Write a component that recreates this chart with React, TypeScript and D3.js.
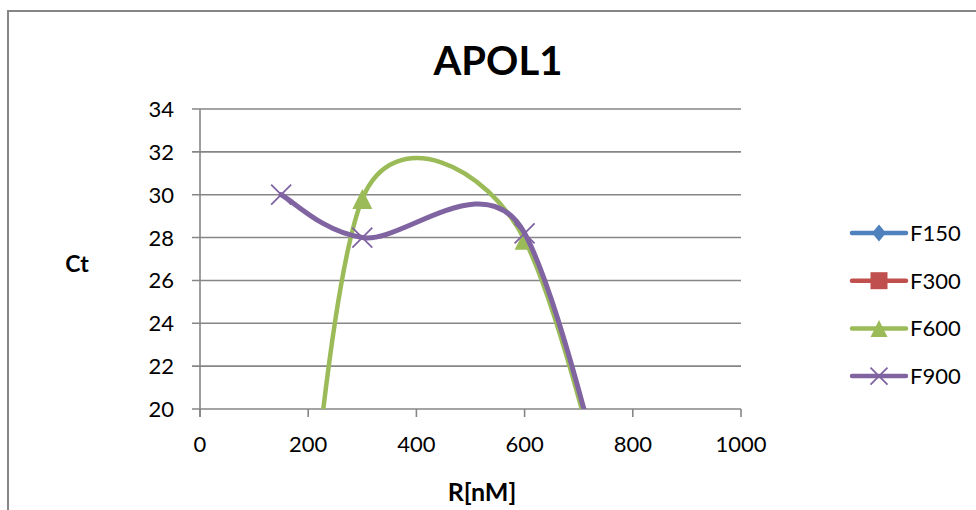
import React from "react";
import * as d3 from "d3";

const concentrations = [150, 300, 600, 900];
const seriesNames = ["F150", "F300", "F600", "F900"];
const f150 = [0, 0, 0, 0];
const f300 = [0, 0, 0, 0];
const f600 = [0, 29.8, 27.9, 0];
const f900 = [30, 28, 28.2, 0];
const seriesColors = ["#4F81BD", "#C0504D", "#9BBB59", "#8064A2"];
const seriesMarkers = ["diamond", "square", "triangle", "x"];
const xTicks = [0, 200, 400, 600, 800, 1000];
const yTicks = [20, 22, 24, 26, 28, 30, 32, 34];

const W = 976;
const H = 510;
const plot = { left: 200, right: 741, top: 109, bottom: 409 };
const FONT = "Lato, 'Open Sans', sans-serif";

type Pt = [number, number];

function excelSmooth(pts: Pt[]): string {
  const p = d3.path();
  if (!pts.length) return "";
  p.moveTo(pts[0][0], pts[0][1]);
  const dist = (a: Pt, b: Pt) => Math.hypot(a[0] - b[0], a[1] - b[1]);
  for (let i = 0; i < pts.length - 1; i++) {
    const P1 = pts[i];
    const P2 = pts[i + 1];
    const P0 = i > 0 ? pts[i - 1] : P1;
    const P3 = i + 2 < pts.length ? pts[i + 2] : P2;
    const d12 = dist(P1, P2);
    const d02 = dist(P0, P2);
    const d13 = dist(P1, P3);
    const f0 = d02 / 6 < d12 / 2 ? 1 / 6 : d12 / (2 * d02);
    const f3 = d13 / 6 < d12 / 2 ? 1 / 6 : d12 / (2 * d13);
    const c1x = P1[0] + f0 * (P2[0] - P0[0]);
    const c1y = P1[1] + f0 * (P2[1] - P0[1]);
    const c2x = P2[0] - f3 * (P3[0] - P1[0]);
    const c2y = P2[1] - f3 * (P3[1] - P1[1]);
    p.bezierCurveTo(c1x, c1y, c2x, c2y, P2[0], P2[1]);
  }
  return p.toString();
}

function Marker({ kind, x, y, color, s }: { kind: string; x: number; y: number; color: string; s: number }) {
  const h = s / 2;
  if (kind === "diamond") {
    return <path d={`M${x},${y - h}L${x + h * 0.82},${y}L${x},${y + h}L${x - h * 0.82},${y}Z`} fill={color} />;
  }
  if (kind === "square") {
    return <rect x={x - h} y={y - h} width={s} height={s} fill={color} />;
  }
  if (kind === "triangle") {
    return <path d={`M${x},${y - h}L${x + h},${y + h}L${x - h},${y + h}Z`} fill={color} />;
  }
  return (
    <path
      d={`M${x - h},${y - h}L${x + h},${y + h}M${x - h},${y + h}L${x + h},${y - h}`}
      stroke={color}
      strokeWidth={1.8}
      fill="none"
    />
  );
}

export default function App() {
  const x = d3.scaleLinear().domain([0, 1000]).range([plot.left, plot.right]);
  const y = d3.scaleLinear().domain([20, 34]).range([plot.bottom, plot.top]);
  const allSeries = [f150, f300, f600, f900];

  return (
    <div style={{ position: "absolute", left: 0, top: 0 }}>
      <svg width={W} height={H} style={{ display: "block", background: "#fff" }}>
        <defs>
          <clipPath id="plotClip">
            <rect x={plot.left} y={plot.top - 10} width={plot.right - plot.left + 10} height={plot.bottom - plot.top + 10} />
          </clipPath>
        </defs>
        <rect x={8} y={11} width={W + 20} height={H + 20} fill="#fff" stroke="#868686" strokeWidth={2} />

        <text x={498} y={75} textAnchor="middle" fontFamily={FONT} fontWeight="bold" fontSize={40} fill="#000">
          APOL1
        </text>

        {yTicks.map((t) => (
          <g key={"y" + t}>
            <line x1={plot.left - 8} x2={plot.right} y1={y(t)} y2={y(t)} stroke="#868686" strokeWidth={1.6} />
            <text x={174} y={y(t) + 8} textAnchor="end" fontFamily={FONT} fontSize={22} fill="#000">
              {t}
            </text>
          </g>
        ))}
        <line x1={plot.left} x2={plot.left} y1={plot.top} y2={plot.bottom + 8} stroke="#868686" strokeWidth={1.6} />
        {xTicks.map((t) => (
          <g key={"x" + t}>
            <line x1={x(t)} x2={x(t)} y1={plot.bottom} y2={plot.bottom + 8} stroke="#868686" strokeWidth={1.6} />
            <text x={x(t)} y={452} textAnchor="middle" fontFamily={FONT} fontSize={22} fill="#000">
              {t}
            </text>
          </g>
        ))}

        <text x={77} y={272} textAnchor="middle" fontFamily={FONT} fontWeight="bold" fontSize={23} fill="#000">
          Ct
        </text>
        <text x={482} y={501} textAnchor="middle" fontFamily={FONT} fontWeight="bold" fontSize={25} fill="#000">
          R[nM]
        </text>

        <g clipPath="url(#plotClip)">
          {allSeries.map((vals, si) => {
            const pts: Pt[] = concentrations.map((c, i) => [x(c), y(vals[i])]);
            return (
              <g key={"s" + si}>
                <path
                  d={excelSmooth(pts)}
                  fill="none"
                  stroke={seriesColors[si]}
                  strokeWidth={si === 3 ? 5 : 4.5}
                  strokeLinecap="round"
                />
                {pts.map((p, i) => (
                  <Marker key={i} kind={seriesMarkers[si]} x={p[0]} y={p[1]} color={seriesColors[si]} s={20} />
                ))}
              </g>
            );
          })}
        </g>

        {seriesNames.map((name, si) => {
          const ly = 233 + si * 47.7;
          return (
            <g key={"l" + si}>
              <line x1={852} x2={906} y1={ly} y2={ly} stroke={seriesColors[si]} strokeWidth={4.5} strokeLinecap="round" />
              <Marker kind={seriesMarkers[si]} x={879} y={ly} color={seriesColors[si]} s={17} />
              <text x={910} y={ly + 8} fontFamily={FONT} fontSize={22} fill="#000">
                {name}
              </text>
            </g>
          );
        })}
      </svg>
    </div>
  );
}
